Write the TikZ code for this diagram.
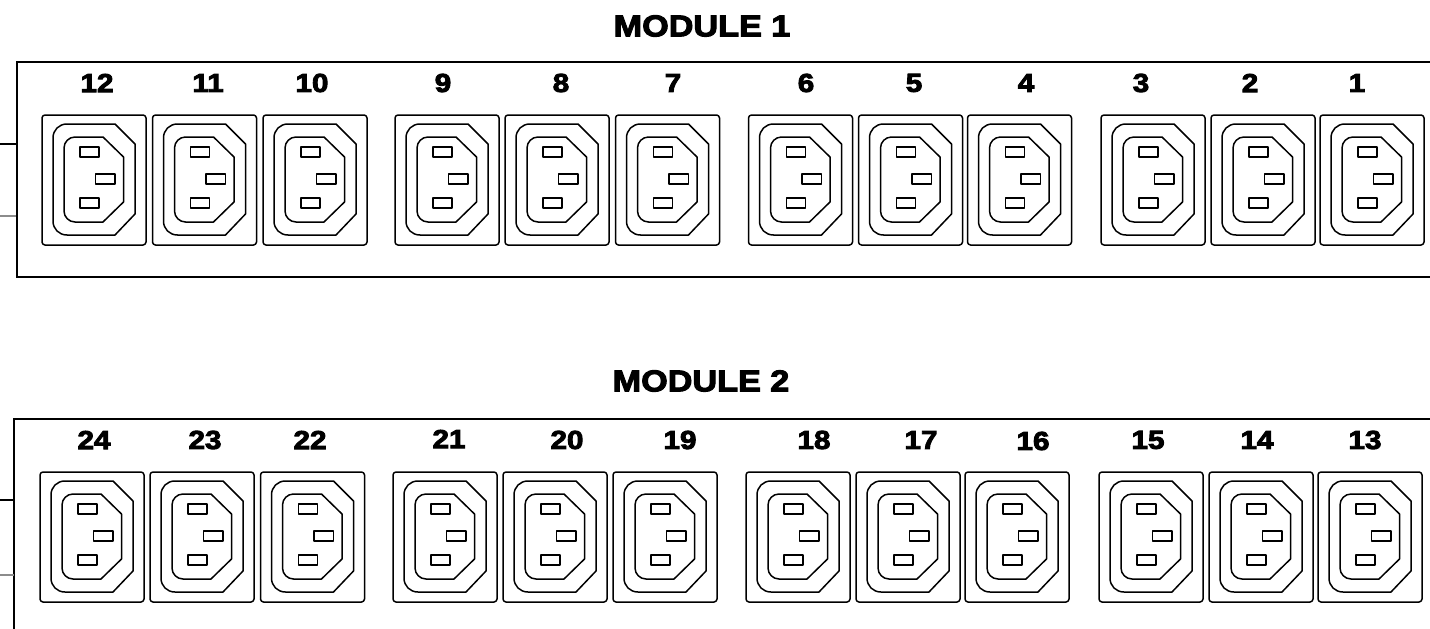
\documentclass[tikz,border=0pt]{standalone}
\usepackage{fontspec}
\setmainfont{Liberation Sans}[BoldFeatures={FakeBold=3.5,FakeStretch=1.14}]
\tikzset{
  x=1pt,y=-1pt,
  thinline/.style={line width=1.5pt,draw=black,line join=round},
  frameline/.style={line width=2pt,draw=black},
  stubblack/.style={line width=1.6pt,draw=black},
  stubgray/.style={line width=1.6pt,draw=black!45},
  portnum/.style={font=\bfseries\fontsize{26}{26}\selectfont,inner sep=0pt,anchor=center},
  modtitle/.style={font=\bfseries\fontsize{30}{30}\selectfont,inner sep=0pt,anchor=center},
  pics/socket/.style={code={
    \draw[thinline,rounded corners=3pt] (0,0) rectangle (104,130);
    \draw[thinline] (25,9) -- (73,9) -- (93,29) -- (93,99) -- (73,120) -- (25,120)
      .. controls (17,120) and (11,114) .. (11,106) -- (11,23)
      .. controls (11,15) and (17,9) .. (25,9) -- cycle;
    \draw[thinline] (33,22) -- (61,22) -- (81.5,42) -- (81.5,87) -- (61,107) -- (33,107)
      .. controls (27,107) and (22,102) .. (22,96) -- (22,33)
      .. controls (22,27) and (27,22) .. (33,22) -- cycle;
    \draw[thinline] (38,32) rectangle (57,42);
    \draw[thinline] (38,83) rectangle (57,93);
    \draw[thinline] (53.5,59) rectangle (73,69);
  }}
}
\begin{document}
\begin{tikzpicture}
\useasboundingbox (0,0) rectangle (1430,629);
% module 1
\coordinate (m1a) at (1430,62);
\coordinate (m1b) at (16.5,62);
\coordinate (m1c) at (16.5,277);
\coordinate (m1d) at (1430,277);
\draw[frameline] (m1a) -- (m1b) -- (m1c) -- (m1d);
\coordinate (s1a) at (0,144);
\coordinate (s1b) at (16,144);
\coordinate (s1c) at (0,216);
\coordinate (s1d) at (16,216);
\draw[stubblack] (s1a) -- (s1b);
\draw[stubgray] (s1c) -- (s1d);
\node[modtitle] (t1) at (702,26) {MODULE 1};
\foreach \n/\x/\y/\lx/\ly in {12/42/115/97/83,11/152.5/115/208/83,10/263/115/312/83,9/395/115/443/83,8/505/115/561/83,7/615.5/115/673/83,6/748.5/115/806/83,5/858.5/115/914/83,4/967.5/115/1026/83,3/1101/115/1141/83,2/1211/115/1250/83,1/1320/115/1357/83}{
  \pic at (\x,\y) {socket};
  \node[portnum] (n\n) at (\lx,\ly) {\n};
}
% module 2
\coordinate (m2a) at (1430,419);
\coordinate (m2b) at (14,419);
\coordinate (m2c) at (14,629);
\draw[frameline] (m2a) -- (m2b) -- (m2c);
\coordinate (s2a) at (0,500);
\coordinate (s2b) at (14,500);
\coordinate (s2c) at (0,575);
\coordinate (s2d) at (14,575);
\draw[stubblack] (s2a) -- (s2b);
\draw[stubgray] (s2c) -- (s2d);
\node[modtitle] (t2) at (701,381) {MODULE 2};
\foreach \n/\x/\y/\lx/\ly in {24/40/472/94/440,23/150/472/205/440,22/260.5/472/310/440,21/393/472/449/439,20/503/472/567/440,19/613/472/680/440,18/746/472/814/440,17/856/472/921/440,16/965/472/1033/441,15/1099/472/1148/440,14/1209/472/1257/440,13/1318/472/1365/440}{
  \pic at (\x,\y) {socket};
  \node[portnum] (n\n) at (\lx,\ly) {\n};
}
\end{tikzpicture}
\end{document}
